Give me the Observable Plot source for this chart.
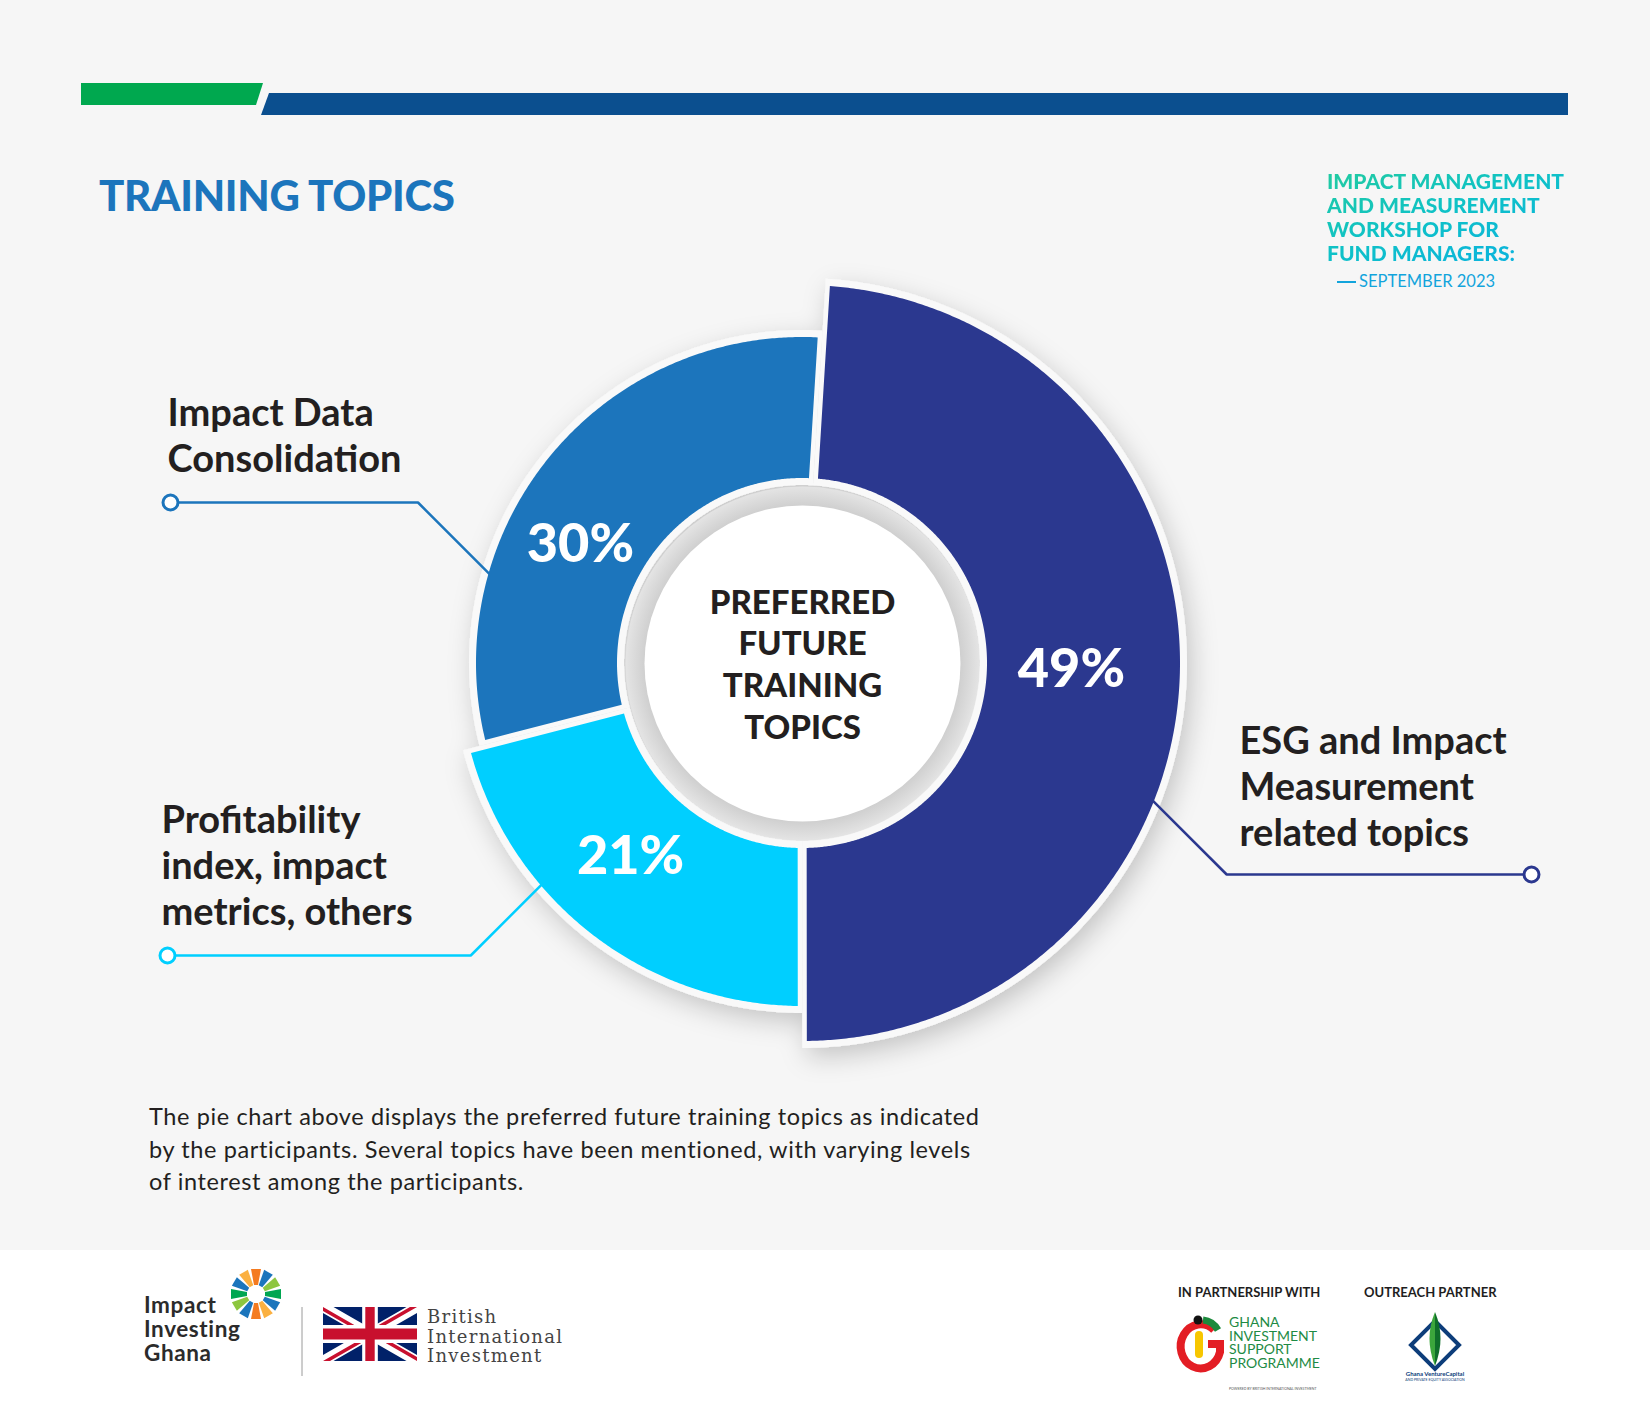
<!DOCTYPE html>
<html>
<head>
<meta charset="utf-8">
<script src="https://cdn.jsdelivr.net/npm/d3@7"></script>
<script src="https://cdn.jsdelivr.net/npm/@observablehq/plot@0.6"></script>
<style>
  html, body { margin:0; padding:0; width:1650px; height:1410px; overflow:hidden; background:#f6f6f6; }
  #page { position:relative; width:1650px; height:1410px; background:#f6f6f6; font-family: Lato, "Open Sans", sans-serif; color:#231f20; }
  #footer { position:absolute; left:0; top:1250px; width:1650px; height:160px; background:#ffffff; }
  #deco { position:absolute; left:0; top:0; }
  #chart { position:absolute; left:0; top:0; }
  #chart svg { display:block; overflow:visible; }
  .t { position:absolute; white-space:nowrap; left:0; top:0; }
  #title { font-weight:900; font-size:42px; color:#1c75bc; letter-spacing:-0.3px; line-height:1; }
  #event { font-weight:900; font-size:21px; line-height:24px; letter-spacing:0px;
           background:linear-gradient(160deg,#22cb9f 0%,#0fc2c6 45%,#0aafe4 100%);
           -webkit-background-clip:text; background-clip:text; color:transparent; }
  #date { font-weight:400; font-size:16.5px; color:#12a4dc; line-height:1; }
  #date .dash { display:inline-block; width:19px; height:1.5px; background:#12a4dc; vertical-align:middle; margin-right:3px; position:relative; top:-1px; }
  #caption { font-size:23.5px; letter-spacing:0.62px; line-height:32.5px; color:#231f20; }
</style>
</head>
<body>
<div id="page">
  <div id="footer"></div>
  <svg id="deco" width="1650" height="1410" xmlns="http://www.w3.org/2000/svg">
    <polygon points="81,83 263,83 256,105 81,105" fill="#00a84f"/>
    <polygon points="269,93 1568,93 1568,115 261,115" fill="#0b4f8f"/>
  </svg>
  <div id="chart"></div>
  <div class="t" id="title">TRAINING TOPICS</div>
  <div class="t" id="event">IMPACT MANAGEMENT<br>AND MEASUREMENT<br>WORKSHOP FOR<br>FUND MANAGERS:</div>
  <div class="t" id="date"><span class="dash"></span>SEPTEMBER 2023</div>
  <div class="t" id="caption">The pie chart above displays the preferred future training topics as indicated<br>by the participants. Several topics have been mentioned, with varying levels<br>of interest among the participants.</div>

  <svg id="logos" width="1650" height="1410" style="position:absolute;left:0;top:0" xmlns="http://www.w3.org/2000/svg">
    <defs>
      <clipPath id="ukc"><rect x="0" y="0" width="60" height="30"/></clipPath>
      <clipPath id="ukt"><path d="M30,15 h30 v15 z v15 h-30 z h-30 v-15 z v-15 h30 z"/></clipPath>
    </defs>
    <g id="sun" transform="translate(256,1294)"></g>
    <g font-family="Lato, sans-serif" font-weight="700" font-size="22.5" fill="#2b2b2b" letter-spacing="0.6">
      <text x="144" y="1313">Impact</text>
      <text x="144" y="1337">Investing</text>
      <text x="144" y="1361">Ghana</text>
    </g>
    <line x1="302" y1="1307" x2="302" y2="1376" stroke="#9a9a9a" stroke-width="1"/>
    <g transform="translate(323,1307) scale(1.5667,1.8)" clip-path="url(#ukc)">
      <rect x="0" y="0" width="60" height="30" fill="#012169"/>
      <path d="M0,0 L60,30 M60,0 L0,30" stroke="#fff" stroke-width="6"/>
      <path d="M0,0 L60,30 M60,0 L0,30" clip-path="url(#ukt)" stroke="#C8102E" stroke-width="4"/>
      <path d="M30,0 v30 M0,15 h60" stroke="#fff" stroke-width="10"/>
      <path d="M30,0 v30 M0,15 h60" stroke="#C8102E" stroke-width="6"/>
    </g>
    <g font-family="'DejaVu Serif', serif" font-size="18" fill="#444" letter-spacing="1.3">
      <text x="427" y="1323">British</text>
      <text x="427" y="1343">International</text>
      <text x="427" y="1362">Investment</text>
    </g>
    <g font-family="Lato, sans-serif" font-size="13" font-weight="700" fill="#1e1e1e">
      <text x="1178" y="1297">IN PARTNERSHIP WITH</text>
      <text x="1364" y="1297">OUTREACH PARTNER</text>
    </g>
    <g>
      <path d="M1214,1330 A20,22 0 1 0 1220,1352 L1220,1344 L1208,1344" fill="none" stroke="#e31d24" stroke-width="8"/>
      <path d="M1203,1320 A20,22 0 0 1 1218,1330" fill="none" stroke="#1b8a3c" stroke-width="7"/>
      <rect x="1195" y="1331" width="8" height="27" rx="4" fill="#f7c600"/>
      <circle cx="1198" cy="1320" r="4.5" fill="#111"/>
    </g>
    <g font-family="Lato, sans-serif" font-size="14" fill="#1e8b45">
      <text x="1229" y="1327">GHANA</text>
      <text x="1229" y="1341">INVESTMENT</text>
      <text x="1229" y="1354">SUPPORT</text>
      <text x="1229" y="1368">PROGRAMME</text>
    </g>
    <text x="1229" y="1390" font-family="Lato, sans-serif" font-size="3.5" fill="#555">POWERED BY BRITISH INTERNATIONAL INVESTMENT</text>
    <g>
      <polygon points="1435,1321 1459,1345 1435,1369 1411,1345" fill="none" stroke="#0d3d7a" stroke-width="4"/>
      <path d="M1435,1312 Q1446,1338 1435,1366 Z" fill="#0f6e2a"/>
      <path d="M1435,1312 Q1424,1338 1435,1366 Z" fill="#3ca63c"/>
    </g>
    <text x="1435" y="1376" text-anchor="middle" font-family="Lato, sans-serif" font-weight="700" font-size="6" fill="#0d3d7a">Ghana VentureCapital</text>
    <text x="1435" y="1381" text-anchor="middle" font-family="Lato, sans-serif" font-size="3.5" fill="#0d3d7a">AND PRIVATE EQUITY ASSOCIATION</text>
  </svg>
</div>

<script>
// ---------------- data ----------------
const topics = [
  "ESG and Impact Measurement related topics",
  "Profitability index, impact metrics, others",
  "Impact Data Consolidation"
];
const topicLines = [
  ["ESG and Impact", "Measurement", "related topics"],
  ["Profitability", "index, impact", "metrics, others"],
  ["Impact Data", "Consolidation"]
];
const shares = [49, 21, 30];
const shareLabels = ["49%", "21%", "30%"];
const centerLines = ["PREFERRED", "FUTURE", "TRAINING", "TOPICS"];

// ---------------- style / layout ----------------
const sliceColors = ["#2b388f", "#00cfff", "#1c75bc"];
const outerR = [378, 343, 326];
const innerR = 185;
const cx = 802, cy = 663;
const startDeg = 3.55;
const pad = 4.5, band = 7;
const labelLayout = [
  {x: 1239, y: 753, attachDeg: 111.5, endX: 1531, endY: 874, pctDeg: 91.3, pctR: 269},
  {x: 161, y: 832, attachDeg: 229.7, endX: 167, endY: 955, pctDeg: 221.6, pctR: 259},
  {x: 167, y: 425, attachDeg: 286, endX: 170, endY: 502, pctDeg: 298.2, pctR: 252}
];

const rad = d => d * Math.PI / 180;
const P = (a, r) => [cx + r * Math.sin(a), cy - r * Math.cos(a)];

const total = d3.sum(shares);
let acc = rad(startDeg);
const slices = shares.map((v, i) => {
  const a0 = acc, a1 = acc + v / total * 2 * Math.PI;
  acc = a1;
  return {i, a0, a1};
});

// closed polygon outline of a ring sector (data-space points)
function sectorPolygon(a0, a1, r0, r1, p) {
  const pts = [];
  const oa0 = a0 + Math.asin(p / r1), oa1 = a1 - Math.asin(p / r1);
  const ia0 = a0 + Math.asin(p / r0), ia1 = a1 - Math.asin(p / r0);
  const n = Math.max(4, Math.ceil((oa1 - oa0) / rad(0.4)));
  for (let j = 0; j <= n; j++) pts.push(P(oa0 + (oa1 - oa0) * j / n, r1));
  const m = Math.max(4, Math.ceil((ia1 - ia0) / rad(0.4)));
  for (let j = 0; j <= m; j++) pts.push(P(ia1 - (ia1 - ia0) * j / m, r0));
  return pts;
}

const donutData = slices.map(s => ({
  topic: topics[s.i],
  share: shares[s.i],
  color: sliceColors[s.i],
  back: sectorPolygon(s.a0, s.a1, innerR - band, outerR[s.i] + band, 0),
  face: sectorPolygon(s.a0, s.a1, innerR, outerR[s.i], pad)
}));

const leaders = labelLayout.map((L, i) => {
  const [ax, ay] = P(rad(L.attachDeg), outerR[i]);
  const dy = L.endY - ay;
  const ex = L.endX > ax ? ax + Math.abs(dy) : ax - Math.abs(dy);
  const len = Math.hypot(ax - ex, ay - L.endY);
  const ux = (ax - ex) / len, uy = (ay - L.endY) / len;
  return [
    {k: i, x: L.endX, y: L.endY},
    {k: i, x: ex, y: L.endY},
    {k: i, x: ax + ux * 18, y: ay + uy * 18}
  ];
});

const catText = topicLines.flatMap((lines, i) => lines.map((t, j) => ({t, x: labelLayout[i].x, y: labelLayout[i].y + j * 46})));
const pctText = shareLabels.map((t, i) => {
  const [x, y] = P(rad(labelLayout[i].pctDeg), labelLayout[i].pctR);
  return {t, x, y};
});
const centerText = centerLines.map((t, j) => ({t, x: cx, y: cy - 50 + j * 41.7}));

const defsMark = () => {
  const defs = d3.create("svg:defs");
  const rg = defs.append("radialGradient").attr("id", "ringShade").attr("gradientUnits", "userSpaceOnUse")
    .attr("cx", cx).attr("cy", cy).attr("r", 177);
  rg.append("stop").attr("offset", 0.89).attr("stop-color", "#cfcfcf");
  rg.append("stop").attr("offset", 1).attr("stop-color", "#e4e4e4");
  const f = defs.append("filter").attr("id", "donutShadow")
    .attr("filterUnits", "userSpaceOnUse")
    .attr("x", 300).attr("y", 180).attr("width", 1000).attr("height", 1000);
  f.append("feDropShadow").attr("dx", 5).attr("dy", 9).attr("stdDeviation", 13)
    .attr("flood-color", "#000").attr("flood-opacity", 0.2);
  return defs.node();
};

// custom mark drawing sector polygons through Plot's x/y scales
function sectorMark(key, withShadow) {
  return (index, scales) => {
    const sx = typeof scales.x === "function" ? scales.x : (v => v);
    const sy = typeof scales.y === "function" ? scales.y : (v => v);
    const line = d3.line().x(d => sx(d[0])).y(d => sy(d[1]));
    const g = d3.create("svg:g").attr("aria-label", key === "back" ? "donut-backing" : "donut-slices");
    if (withShadow) g.attr("filter", "url(#donutShadow)");
    g.selectAll("path").data(donutData).join("path")
      .attr("d", d => line(d[key]) + "Z")
      .attr("fill", d => key === "back" ? "#f9f9f9" : d.color)
      .append("title").text(d => `${d.topic}: ${d.share}%`);
    return g.node();
  };
}

const marks = [defsMark, sectorMark("back", true)];
leaders.forEach((pts, i) => marks.push(Plot.line(pts, {x: "x", y: "y", stroke: sliceColors[i], strokeWidth: 2.5, strokeLinejoin: "miter", strokeLinecap: "butt"})));
marks.push(sectorMark("face", false));
marks.push(Plot.dot([0], {x: () => cx, y: () => cy, r: 177, fill: "url(#ringShade)", stroke: "none"}));
marks.push(Plot.dot([0], {x: () => cx, y: () => cy, r: 158, fill: "#ffffff", stroke: "none"}));
leaders.forEach((pts, i) => marks.push(Plot.dot([pts[0]], {x: "x", y: "y", r: 7.5, fill: "#ffffff", stroke: sliceColors[i], strokeWidth: 3})));
marks.push(Plot.text(catText, {x: "x", y: "y", text: "t", textAnchor: "start", lineAnchor: "bottom", fontSize: 38, fontWeight: 700, fontFamily: "Lato, sans-serif", fill: "#231f20"}));
marks.push(Plot.text(pctText, {x: "x", y: "y", text: "t", textAnchor: "middle", lineAnchor: "middle", fontSize: 54, fontWeight: 900, fontFamily: "Lato, sans-serif", fill: "#ffffff"}));
marks.push(Plot.text(centerText, {x: "x", y: "y", text: "t", textAnchor: "middle", lineAnchor: "bottom", fontSize: 33, fontWeight: 900, fontFamily: "Lato, sans-serif", fill: "#231f20"}));

const chart = Plot.plot({
  width: 1650, height: 1410, margin: 0,
  x: {type: "linear", domain: [0, 1650], range: [0, 1650], axis: null},
  y: {type: "linear", domain: [0, 1410], range: [0, 1410], axis: null},
  style: {background: "transparent", overflow: "visible"},
  marks
});
document.getElementById("chart").appendChild(chart);

// sunburst logo
(function () {
  const g = d3.select("#sun");
  const cols = ["#f47b20", "#1b75bc", "#8dc63f", "#00a651", "#1b75bc", "#fbb040", "#f47b20", "#1b75bc", "#8dc63f", "#00a651", "#1b75bc", "#fbb040"];
  cols.forEach((c, i) => {
    g.append("polygon").attr("points", "-2,-9 2,-9 5,-25 -5,-25").attr("fill", c)
      .attr("transform", `rotate(${i * 30})`);
  });
})();

// baseline placement of HTML texts
function place(id, x, baseline) {
  const el = document.getElementById(id);
  el.style.left = x + "px";
  el.style.top = "0px";
  let m = el.querySelector(".bl");
  if (!m) {
    m = document.createElement("span");
    m.className = "bl";
    m.style.cssText = "display:inline-block;width:0;height:0;vertical-align:baseline";
    el.insertBefore(m, el.firstChild);
  }
  const top0 = document.getElementById("page").getBoundingClientRect().top;
  const b = m.getBoundingClientRect().top - top0;
  el.style.top = (baseline - b) + "px";
}
function layoutTexts() {
  place("title", 99, 211);
  place("event", 1327, 189);
  place("date", 1337, 287);
  place("caption", 149, 1125);
}
layoutTexts();
if (document.fonts && document.fonts.ready) document.fonts.ready.then(layoutTexts);
</script>
</body>
</html>
